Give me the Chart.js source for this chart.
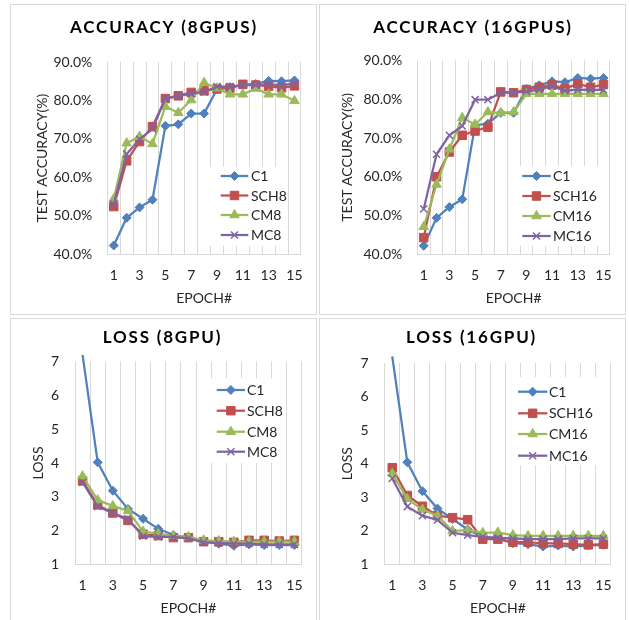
<!DOCTYPE html>
<html><head><meta charset="utf-8">
<script src="https://cdn.jsdelivr.net/npm/chart.js@4/dist/chart.umd.min.js"></script>
<style>
html,body{margin:0;padding:0;background:#fff;overflow:hidden;width:629px;height:620px;}
.panel{position:absolute;border:1px solid #d9d9d9;box-sizing:border-box;background:#fff;}
canvas{position:absolute;left:0;top:0;}
</style></head><body>
<div class="panel" style="left:10px;top:4px;width:307px;height:311px"><canvas id="c1" width="305" height="309"></canvas></div>
<div class="panel" style="left:319px;top:4px;width:307px;height:311px"><canvas id="c2" width="305" height="309"></canvas></div>
<div class="panel" style="left:10px;top:318px;width:307px;height:320px"><canvas id="c3" width="305" height="301"></canvas></div>
<div class="panel" style="left:319px;top:318px;width:307px;height:320px"><canvas id="c4" width="305" height="301"></canvas></div>
<script>
// ---- data ----
const epochs = ['1','2','3','4','5','6','7','8','9','10','11','12','13','14','15'];
const names8 = ['C1','SCH8','CM8','MC8'];
const names16 = ['C1','SCH16','CM16','MC16'];
const accTicks = [40, 50, 60, 70, 80, 90];
const lossTicks = [1, 2, 3, 4, 5, 6, 7];

const accC1_8  = [42.3, 49.5, 52.2, 54.2, 73.4, 73.8, 76.6, 76.6, 83.0, 83.5, 84.0, 84.3, 85.1, 85.0, 85.2];
const accSCH8  = [52.4, 64.3, 69.3, 73.2, 80.5, 81.2, 82.1, 82.5, 83.0, 83.2, 84.2, 84.0, 83.7, 83.3, 83.8];
const accCM8   = [54.4, 68.9, 70.6, 68.7, 78.4, 76.8, 80.1, 84.6, 83.2, 81.6, 81.6, 83.1, 81.6, 81.6, 79.9];
const accMC8   = [53.1, 66.1, 69.9, 72.6, 80.5, 81.2, 81.7, 82.2, 83.6, 83.6, 84.0, 84.0, 84.2, 84.0, 84.4];

const accC1_16 = [42.2, 49.4, 52.2, 54.2, 73.3, 73.7, 76.5, 76.5, 82.7, 83.6, 84.6, 84.4, 85.5, 85.3, 85.5];
const accSCH16 = [44.3, 60.0, 66.4, 70.7, 71.8, 72.8, 81.9, 81.7, 82.5, 83.1, 83.7, 82.7, 84.0, 83.1, 83.8];
const accCM16  = [47.1, 58.0, 67.1, 75.2, 73.5, 76.7, 76.5, 76.7, 81.4, 81.4, 81.4, 81.4, 81.4, 81.4, 81.4];
const accMC16  = [51.7, 65.8, 70.7, 73.1, 79.9, 79.9, 81.7, 81.7, 82.0, 82.5, 83.4, 82.2, 82.5, 82.4, 82.4];

const lossC1_8  = [7.2, 4.02, 3.18, 2.64, 2.35, 2.05, 1.87, 1.79, 1.69, 1.61, 1.55, 1.59, 1.57, 1.57, 1.57];
const lossSCH8  = [3.47, 2.76, 2.52, 2.30, 1.89, 1.85, 1.79, 1.79, 1.67, 1.67, 1.65, 1.71, 1.71, 1.69, 1.71];
const lossCM8   = [3.61, 2.90, 2.73, 2.58, 1.97, 1.90, 1.85, 1.81, 1.71, 1.69, 1.67, 1.67, 1.67, 1.67, 1.67];
const lossMC8   = [3.43, 2.71, 2.52, 2.34, 1.83, 1.81, 1.81, 1.77, 1.65, 1.63, 1.61, 1.61, 1.59, 1.59, 1.59];

const lossC1_16  = [7.2, 4.04, 3.18, 2.66, 2.35, 2.04, 1.82, 1.77, 1.63, 1.60, 1.53, 1.56, 1.53, 1.56, 1.58];
const lossSCH16  = [3.88, 3.05, 2.73, 2.45, 2.39, 2.33, 1.75, 1.75, 1.66, 1.66, 1.62, 1.62, 1.60, 1.58, 1.60];
const lossCM16   = [3.71, 2.95, 2.63, 2.45, 1.99, 2.02, 1.94, 1.95, 1.87, 1.85, 1.85, 1.85, 1.85, 1.85, 1.85];
const lossMC16   = [3.56, 2.72, 2.45, 2.32, 1.94, 1.87, 1.82, 1.79, 1.77, 1.75, 1.75, 1.75, 1.77, 1.77, 1.77];

// ---- styles ----
const COLORS = ['#4F81BD', '#C0504D', '#9BBB59', '#8064A2'];
const STYLES = ['rectRot', 'rect', 'triangle', 'crossRot'];
const RADII = [4.5, 6, 5.5, 5];
const FONT = 'Lato, "Open Sans", "DejaVu Sans", sans-serif';

const deco = {
  id: 'deco',
  afterDraw(chart) {
    const o = chart.options.plugins.deco;
    const ctx = chart.ctx;
    // title
    ctx.save();
    ctx.font = 'bold 17px ' + FONT;
    ctx.fillStyle = '#000';
    ctx.textAlign = 'center';
    ctx.textBaseline = 'middle';
    try { ctx.letterSpacing = '1.8px'; } catch (e) {}
    ctx.fillText(o.title, o.titleX, o.titleY);
    ctx.restore();
    // legend
    ctx.save();
    ctx.fillStyle = '#fff';
    ctx.fillRect(o.box[0], o.box[1], o.box[2], o.box[3]);
    chart.data.datasets.forEach((ds, i) => {
      const y = o.rows[i];
      ctx.strokeStyle = COLORS[i];
      ctx.lineWidth = 2.25;
      ctx.beginPath();
      ctx.moveTo(o.lx0, y); ctx.lineTo(o.lx1, y); ctx.stroke();
      ctx.fillStyle = COLORS[i];
      ctx.strokeStyle = COLORS[i];
      ctx.lineWidth = STYLES[i] === 'crossRot' ? 1.5 : 1;
      Chart.helpers.drawPoint(ctx, {pointStyle: STYLES[i], radius: RADII[i], rotation: 0, borderWidth: ctx.lineWidth}, (o.lx0 + o.lx1) / 2, y);
      ctx.font = '14px ' + FONT;
      ctx.fillStyle = '#262626';
      ctx.textAlign = 'left';
      ctx.textBaseline = 'middle';
      ctx.fillText(ds.label, o.tx, y + 0.5);
    });
    ctx.restore();
  }
};

function makeChart(id, cx, cy, cw, ch, area, series, names, yCfg, text, leg) {
  // convert absolute positions into canvas-relative
  const rel = v => v;
  const datasets = series.map((vals, i) => ({
    label: names[i],
    data: vals,
    borderColor: COLORS[i],
    backgroundColor: COLORS[i],
    borderWidth: 2.25,
    pointStyle: STYLES[i],
    pointRadius: c => (c.raw > yCfg.max ? 0 : RADII[i]),
    pointHoverRadius: RADII[i],
    pointBorderWidth: STYLES[i] === 'crossRot' ? 1.5 : 1,
    pointBorderColor: COLORS[i],
    pointBackgroundColor: COLORS[i],
    tension: 0,
    order: 3 - i,
    clip: {left: 3, top: 7, right: 3, bottom: 3}
  }));
  return new Chart(document.getElementById(id), {
    type: 'line',
    data: {labels: epochs, datasets},
    options: {
      responsive: false,
      animation: false,
      events: [],
      layout: {padding: {left: 0, top: area.t - cy, right: (cx + cw) - area.r, bottom: 0}},
      plugins: {
        legend: {display: false},
        title: {display: false},
        tooltip: {enabled: false},
        deco: {
          title: text.title, titleX: text.tx - cx, titleY: text.ty - cy,
          box: [leg.box[0] - cx, leg.box[1] - cy, leg.box[2], leg.box[3]],
          rows: leg.rows.map(r => r - cy), lx0: leg.lx0 - cx, lx1: leg.lx1 - cx, tx: leg.tx - cx
        }
      },
      scales: {
        x: {
          type: 'category',
          offset: true,
          grid: {display: true, offset: true, color: '#d9d9d9', lineWidth: 1, drawTicks: false},
          border: {display: true, color: '#d9d9d9', width: 1},
          ticks: {
            autoSkip: false, maxRotation: 0, padding: text.xtPad,
            font: {family: FONT, size: 14}, color: '#262626',
            callback: (v, i) => (i % 2 === 0 ? epochs[i] : '')
          },
          title: {display: true, text: 'EPOCH#', font: {family: FONT, size: 14}, color: '#262626',
                  padding: {top: 0, bottom: text.xTitlePad}},
          afterFit: s => { s.height = (cy + ch) - area.b; }
        },
        y: {
          min: yCfg.min, max: yCfg.max,
          afterBuildTicks: s => { s.ticks = yCfg.ticks.map(v => ({value: v})); },
          grid: {display: false, drawTicks: false},
          border: {display: false},
          ticks: {padding: yCfg.pad, font: {family: FONT, size: 14}, color: '#262626', callback: yCfg.fmt},
          title: {display: true, text: yCfg.title, font: {family: FONT, size: 14}, color: '#262626',
                  padding: {top: yCfg.titleX - cx - 8.4, bottom: 0}},
          afterFit: s => { s.width = area.l - cx; }
        }
      }
    },
    plugins: [deco]
  });
}

const pctFmt = v => v.toFixed(1) + '%';
const numFmt = v => String(v);

makeChart('c1', 11, 5, 305, 309, {l: 107.3, r: 303.3, t: 62, b: 254.3},
  [accC1_8, accSCH8, accCM8, accMC8], names8,
  {min: 40, max: 90, ticks: accTicks, fmt: pctFmt, pad: 15, title: 'TEST ACCURACY(%)', titleX: 42},
  {title: 'ACCURACY (8GPUS)', tx: 164, ty: 28, xtPad: 13, xTitlePad: 7.3},
  {box: [208, 167, 80, 79], rows: [176, 195.5, 215, 235], lx0: 220.7, lx1: 248.3, tx: 251});

makeChart('c2', 320, 5, 305, 309, {l: 417.3, r: 612.7, t: 60.5, b: 254.3},
  [accC1_16, accSCH16, accCM16, accMC16], names16,
  {min: 40, max: 90, ticks: accTicks, fmt: pctFmt, pad: 15, title: 'TEST ACCURACY(%)', titleX: 347.3},
  {title: 'ACCURACY (16GPUS)', tx: 473, ty: 28, xtPad: 13, xTitlePad: 7.3},
  {box: [515, 166, 84, 80], rows: [176, 196, 216, 236], lx0: 522.3, lx1: 550.7, tx: 553});

makeChart('c3', 11, 319, 305, 301, {l: 75, r: 302, t: 361.7, b: 564.3},
  [lossC1_8, lossSCH8, lossCM8, lossMC8], names8,
  {min: 1, max: 7, ticks: lossTicks, fmt: numFmt, pad: 16, title: 'LOSS', titleX: 38.3},
  {title: 'LOSS (8GPU)', tx: 162.5, ty: 338, xtPad: 13, xTitlePad: 3.6},
  {box: [211, 378, 72, 85], rows: [390, 410.7, 431.7, 451.7], lx0: 216.7, lx1: 245, tx: 247});

makeChart('c4', 320, 319, 305, 301, {l: 384.7, r: 611, t: 363, b: 564.3},
  [lossC1_16, lossSCH16, lossCM16, lossMC16], names16,
  {min: 1, max: 7, ticks: lossTicks, fmt: numFmt, pad: 16, title: 'LOSS', titleX: 347.3},
  {title: 'LOSS (16GPU)', tx: 471.5, ty: 338, xtPad: 13, xTitlePad: 3.6},
  {box: [514, 377, 92, 88], rows: [391.7, 413.3, 434, 455.7], lx0: 518, lx1: 547.3, tx: 549});
</script>
</body></html>
